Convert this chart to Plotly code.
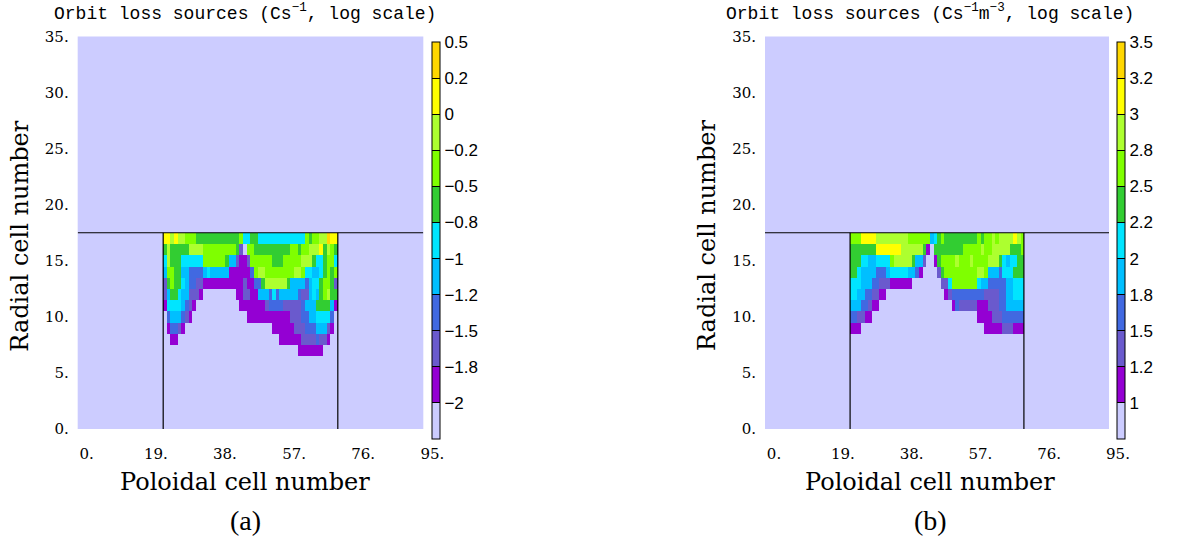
import re
import plotly.graph_objects as go

# Grid size (poloidal x radial cells)
N_POL = 96
N_RAD = 36
BLOB_X0 = 24          # first poloidal cell of the core/loss region
POL_TICKS = [0, 19, 38, 57, 76, 95]
POL_TICKTEXT = ["0.", "19.", "38.", "57.", "76.", "95."]
RAD_TICKS = [0, 5, 10, 15, 20, 25, 30, 35]
RAD_TICKTEXT = ["0.", "5.", "10.", "15.", "20.", "25.", "30.", "35."]

# Separatrix / divertor cuts (cell-edge coordinates)
SEP_RAD = 17.5
CUT_LEFT = 23.5
CUT_RIGHT = 71.5

# Colour levels: '.' = below lowest contour, then increasing
LEVEL_CHARS = ".psbdcghywo"
LEVEL_COLORS = ["#ccccff", "#9400d3", "#6a5acd", "#4169e1", "#00bfff", "#00e5ff",
                "#32cd32", "#7fff00", "#adff2f", "#ffff00", "#ffd700"]

# Panel (a): log10 of source per cell (Cs^-1)
A_LEVEL_VALUES = [-2.125, -1.875, -1.625, -1.375, -1.125, -0.875,
                  -0.625, -0.375, -0.125, 0.125, 0.375]
A_TICKVALS = [-2.0, -1.75, -1.5, -1.25, -1.0, -0.75, -0.5, -0.25, 0.0, 0.25, 0.5]
A_TICKTEXT = ["\u22122", "\u22121.8", "\u22121.5", "\u22121.2", "\u22121", "\u22120.8",
              "\u22120.5", "\u22120.2", "0", "0.2", "0.5"]
A_ZRANGE = [-2.25, 0.5]

# Panel (b): log10 of source density (Cs^-1 m^-3)
B_LEVEL_VALUES = [0.875, 1.125, 1.375, 1.625, 1.875, 2.125,
                  2.375, 2.625, 2.875, 3.125, 3.375]
B_TICKVALS = [1.0, 1.25, 1.5, 1.75, 2.0, 2.25, 2.5, 2.75, 3.0, 3.25, 3.5]
B_TICKTEXT = ["1", "1.2", "1.5", "1.8", "2", "2.2", "2.5", "2.8", "3", "3.2", "3.5"]
B_ZRANGE = [0.75, 3.5]

# Run-length encoded rows of the loss region, cells 24..71, keyed by radial index
A_ROWS = {
    17: "2w y w 2y 3h 12g h 2c 2g 13c h g 2h 2y o 2w",
    16: "g y 5g 4y 9h g s . 2h 10g 2h g 2h 3y w g y h g",
    15: "c y 3g 6c 6h g 2d s 2p s 6h 3g 5h 3y g 2c g 2h c",
    14: "d 2h 2g 2d 4b d c 5d 6p b h 2y 8h 2y h 2c 2d c g h g h",
    13: "s g h 2g c d 2b 2s 11p s 2p 2b g 6y g 4d b d 2c g 2h g s",
    12: "s d 2g c 2d 3s p 9. 2p 2s 2p 3d b c b 5d b 2s d c d g h y 2g",
    11: "p 4c d b s p 12. 7p s 4b 5s b 3d 4g d p",
    10: ". b 3d b s p 15. 12p 3s 2b 2d 4c b .",
    9: ". p 2b s p 24. 6p 3s 3b 3d s p .",
    8: "2. 2p 28. 6p 4s b 2s p 2.",
    7: "37. 7p 4.",
}
B_ROWS = {
    17: "3h 4w 9y 6h d c g h 9g h g 2h y h 4y w y h",
    16: "7g 7w 6y g p . 8g 5h y 2h 5y 3g h",
    15: "3g 2c 2d 4c h 5y g 2d s 2. p g 4h y 3h y 4h 3y g c d 2c 2g",
    14: "2g c 4d 3b d 5c 2d b p 4. s g 9h 2y h 3d b 3c 3g",
    13: "3c 3d 2b 3s 6p 8. 2s c 7h c 2d 5b 2d 3c",
    12: "2c 2d 2b 2s 2p 16. p s 9b 4s 2b 2d 3c",
    11: "3d 2b s 2p 20. p b 5s 3p 3s 2b 5d",
    10: "2b 2s 2p 29. 4p 3s 6b",
    9: "3p 34. 5p 3s 3p",
}


def expand(row):
    out = []
    for tok in row.split():
        m = re.match(r"(\d*)(.)$", tok)
        out.extend(m.group(2) * int(m.group(1) or 1))
    return out


def build_grid(rows, level_values):
    z = [[level_values[0]] * N_POL for _ in range(N_RAD)]
    for j, row in rows.items():
        for k, ch in enumerate(expand(row)):
            z[j][BLOB_X0 + k] = level_values[LEVEL_CHARS.index(ch)]
    return z


def discrete_scale(colors):
    n = len(colors)
    scale = []
    for i, c in enumerate(colors):
        scale.append([i / n, c])
        scale.append([(i + 1) / n, c])
    return scale


W, H = 1180, 540
PANELS = [
    # plot-area pixel boxes: x0, x1, y0(top), y1(bottom); colourbar left pixel
    dict(key="", box=(77.7, 423.3, 36.5, 429.0), cbx=432, rows=A_ROWS,
         vals=A_LEVEL_VALUES, tv=A_TICKVALS, tt=A_TICKTEXT, zr=A_ZRANGE,
         title="Orbit loss sources (Cs<sup>\u22121</sup>, log scale)", tag="(a)", cx=245),
    dict(key="2", box=(765.0, 1109.0, 36.5, 429.0), cbx=1117, rows=B_ROWS,
         vals=B_LEVEL_VALUES, tv=B_TICKVALS, tt=B_TICKTEXT, zr=B_ZRANGE,
         title="Orbit loss sources (Cs<sup>\u22121</sup>m<sup>\u22123</sup>, log scale)",
         tag="(b)", cx=930),
]

fig = go.Figure()
annotations = []
shapes = []
scale = discrete_scale(LEVEL_COLORS)

for p in PANELS:
    x0, x1, y0, y1 = p["box"]
    xa = "x" + p["key"]
    ya = "y" + p["key"]
    fig.add_trace(go.Heatmap(
        z=build_grid(p["rows"], p["vals"]),
        x=list(range(N_POL)), y=list(range(N_RAD)),
        xaxis=xa, yaxis=ya,
        zmin=p["zr"][0], zmax=p["zr"][1],
        colorscale=scale, showscale=True,
        hoverinfo="skip",
        colorbar=dict(
            x=p["cbx"] / W, xanchor="left", xpad=0,
            y=1 - 42 / H, yanchor="top", ypad=0,
            lenmode="pixels", len=397, thickness=8,
            outlinewidth=1, outlinecolor="#000000",
            tickmode="array", tickvals=p["tv"], ticktext=p["tt"],
            ticks="inside", ticklen=8, tickwidth=1, tickcolor="#000000",
            tickfont=dict(family="Liberation Sans", size=17, color="#000000"),
        ),
    ))

    common = dict(showgrid=False, zeroline=False, showline=False, ticks="")
    fig.layout["xaxis" + p["key"]] = dict(
        domain=[x0 / W, x1 / W], range=[0, N_POL - 1], anchor=ya,
        tickmode="array", tickvals=POL_TICKS, ticktext=POL_TICKTEXT,
        tickfont=dict(family="DejaVu Serif", size=15, color="#000000"),
        ticklabelshift=9, ticklabelstandoff=14, **common)
    fig.layout["yaxis" + p["key"]] = dict(
        domain=[1 - y1 / H, 1 - y0 / H], range=[0, N_RAD - 1], anchor=xa,
        tickmode="array", tickvals=RAD_TICKS, ticktext=RAD_TICKTEXT,
        tickfont=dict(family="DejaVu Serif", size=15, color="#000000"),
        ticklabelstandoff=8, **common)

    line = dict(color="#000000", width=1.2)
    shapes.append(dict(type="line", xref=xa, yref=ya, x0=0, x1=N_POL - 1,
                       y0=SEP_RAD, y1=SEP_RAD, line=line))
    for cx in (CUT_LEFT, CUT_RIGHT):
        shapes.append(dict(type="line", xref=xa, yref=ya, x0=cx, x1=cx,
                           y0=0, y1=SEP_RAD, line=line))

    annotations += [
        dict(text=p["title"], x=p["cx"] / W, y=1 - 13 / H, xref="paper", yref="paper",
             showarrow=False, xanchor="center", yanchor="middle",
             font=dict(family="Liberation Mono", size=18, color="#000000")),
        dict(text="Poloidal cell number", x=p["cx"] / W, y=1 - 482 / H,
             xref="paper", yref="paper", showarrow=False,
             xanchor="center", yanchor="middle",
             font=dict(family="DejaVu Serif", size=24, color="#000000")),
        dict(text="Radial cell number", x=(x0 - 58) / W, y=1 - 236 / H,
             xref="paper", yref="paper", showarrow=False, textangle=-90,
             xanchor="center", yanchor="middle",
             font=dict(family="DejaVu Serif", size=24, color="#000000")),
        dict(text=p["tag"], x=p["cx"] / W, y=1 - 520 / H, xref="paper", yref="paper",
             showarrow=False, xanchor="center", yanchor="middle",
             font=dict(family="Liberation Serif", size=28, color="#000000")),
    ]

fig.update_layout(
    width=W, height=H,
    margin=dict(l=0, r=0, t=0, b=0, autoexpand=False),
    paper_bgcolor="#ffffff", plot_bgcolor="#ffffff",
    showlegend=False,
    annotations=annotations, shapes=shapes,
)

fig.write_html("out.html")
